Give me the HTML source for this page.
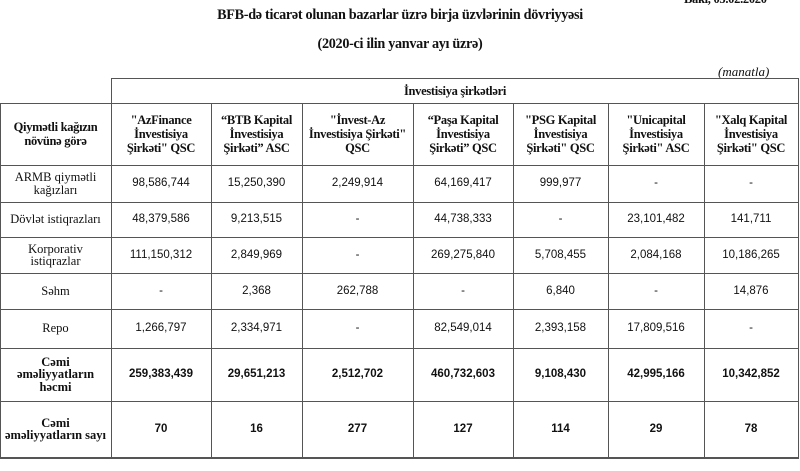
<!DOCTYPE html>
<html><head><meta charset="utf-8"><style>
body{margin:0;width:800px;height:471px;background:#fff;position:relative;overflow:hidden;font-family:"Liberation Serif",serif;color:#111}
.t{position:absolute;white-space:nowrap}
.h{position:absolute;background:#555}
.c{position:absolute;display:flex;align-items:center;justify-content:center;text-align:center;line-height:13px}
.hd{font-family:"Liberation Serif",serif;font-weight:bold;font-size:12.5px;letter-spacing:-0.3px;line-height:14px}
.n{font-family:"Liberation Sans",sans-serif;font-size:11.5px}
.b{font-weight:bold}
.lb{font-family:"Liberation Serif",serif;font-size:12.5px;line-height:12.5px}
</style></head><body>
<div class="t hd" style="left:684px;top:-8px;">Bakı, 05.02.2020</div>
<div class="t hd" style="left:0;width:800px;text-align:center;top:8px;font-size:14.2px">BFB-də ticarət olunan bazarlar üzrə birja üzvlərinin dövriyyəsi</div>
<div class="t hd" style="left:0;width:800px;text-align:center;top:37px;font-size:14.2px">(2020-ci ilin yanvar ayı üzrə)</div>
<div class="t" style="left:718px;top:64px;font-style:italic;font-size:13px">(manatla)</div>

<div class="h" style="left:111px;top:78px;width:688px;height:1px"></div>
<div class="h" style="left:0;top:103px;width:799px;height:1px"></div>
<div class="h" style="left:0;top:165px;width:799px;height:1px"></div>
<div class="h" style="left:0;top:202px;width:799px;height:1px"></div>
<div class="h" style="left:0;top:237px;width:799px;height:1px"></div>
<div class="h" style="left:0;top:273px;width:799px;height:1px"></div>
<div class="h" style="left:0;top:309px;width:799px;height:1px"></div>
<div class="h" style="left:0;top:348px;width:799px;height:1px"></div>
<div class="h" style="left:0;top:401px;width:799px;height:1px"></div>
<div class="h" style="left:0;top:457px;width:799px;height:2px"></div>
<div class="h" style="left:0;top:103px;width:1px;height:356px"></div>
<div class="h" style="left:111px;top:78px;width:1px;height:381px"></div>
<div class="h" style="left:211px;top:103px;width:1px;height:356px"></div>
<div class="h" style="left:302px;top:103px;width:1px;height:356px"></div>
<div class="h" style="left:413px;top:103px;width:1px;height:356px"></div>
<div class="h" style="left:513px;top:103px;width:1px;height:356px"></div>
<div class="h" style="left:608px;top:103px;width:1px;height:356px"></div>
<div class="h" style="left:704px;top:103px;width:1px;height:356px"></div>
<div class="h" style="left:798px;top:78px;width:1px;height:381px"></div>

<div class="c hd" style="left:111px;top:78px;width:688px;height:25px">İnvestisiya şirkətləri</div>
<div class="c hd" style="left:0;top:103px;width:111px;height:62px">Qiymətli kağızın<br>növünə görə</div>
<div class="c hd" style="left:111px;top:103px;width:100px;height:62px">"AzFinance<br>İnvestisiya<br>Şirkəti" QSC</div>
<div class="c hd" style="left:211px;top:103px;width:91px;height:62px">“BTB Kapital<br>İnvestisiya<br>Şirkəti” ASC</div>
<div class="c hd" style="left:302px;top:103px;width:111px;height:62px">"İnvest-Az<br>İnvestisiya Şirkəti"<br>QSC</div>
<div class="c hd" style="left:413px;top:103px;width:100px;height:62px">“Paşa Kapital<br>İnvestisiya<br>Şirkəti” QSC</div>
<div class="c hd" style="left:513px;top:103px;width:95px;height:62px">"PSG Kapital<br>İnvestisiya<br>Şirkəti" QSC</div>
<div class="c hd" style="left:608px;top:103px;width:96px;height:62px">"Unicapital<br>İnvestisiya<br>Şirkəti" ASC</div>
<div class="c hd" style="left:704px;top:103px;width:94px;height:62px">"Xalq Kapital<br>İnvestisiya<br>Şirkəti" QSC</div>

<div class="c lb" style="left:0;top:165px;width:111px;height:37px">ARMB qiymətli<br>kağızları</div>
<div class="c lb" style="left:0;top:202px;width:111px;height:35px">Dövlət istiqrazları</div>
<div class="c lb" style="left:0;top:237px;width:111px;height:36px">Korporativ<br>istiqrazlar</div>
<div class="c lb" style="left:0;top:273px;width:111px;height:36px">Səhm</div>
<div class="c lb" style="left:0;top:309px;width:111px;height:39px">Repo</div>
<div class="c lb b" style="left:0;top:348px;width:111px;height:53px">Cəmi<br>əməliyyatların<br>həcmi</div>
<div class="c lb b" style="left:0;top:401px;width:111px;height:56px">Cəmi<br>əməliyyatların sayı</div>

<div id="g"></div>
<script>
var xs=[111,211,302,413,513,608,704,798];
var ys=[165,202,237,273,309,348,401,457];
var d=[
["98,586,744","15,250,390","2,249,914","64,169,417","999,977","-","-"],
["48,379,586","9,213,515","-","44,738,333","-","23,101,482","141,711"],
["111,150,312","2,849,969","-","269,275,840","5,708,455","2,084,168","10,186,265"],
["-","2,368","262,788","-","6,840","-","14,876"],
["1,266,797","2,334,971","-","82,549,014","2,393,158","17,809,516","-"],
["259,383,439","29,651,213","2,512,702","460,732,603","9,108,430","42,995,166","10,342,852"],
["70","16","277","127","114","29","78"]];
var h="";
for(var r=0;r<7;r++)for(var c=0;c<7;c++){
h+='<div class="c n'+(r>4?' b':'')+'" style="left:'+xs[c]+'px;top:'+ys[r]+'px;width:'+(xs[c+1]-xs[c])+'px;height:'+(ys[r+1]-ys[r])+'px">'+d[r][c]+'</div>';}
document.getElementById("g").innerHTML=h;
</script>
</body></html>
